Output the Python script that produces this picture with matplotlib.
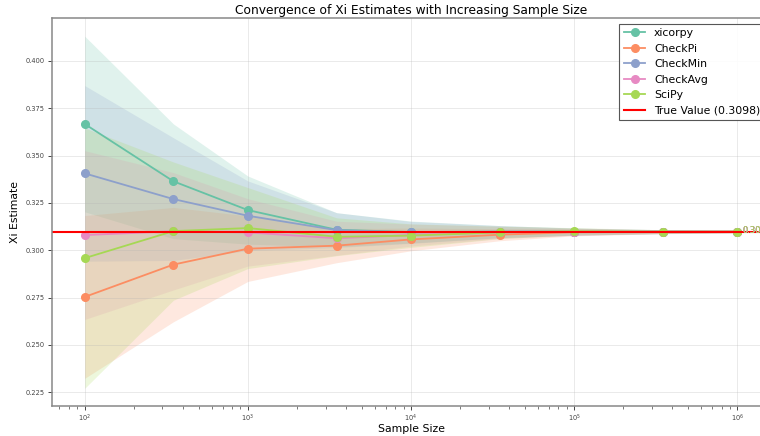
import numpy as np
import matplotlib
matplotlib.use("Agg")
import matplotlib.pyplot as plt

# Tamanhos de amostra
sample_sizes = [100, 350, 1000, 3500, 10000, 35000, 100000, 350000, 1000000]

true_value = 0.3098

# Medias das estimativas por metodo
xicorpy_mean = [0.3667, 0.3364, 0.3212, 0.3108, 0.3096, 0.3098, 0.3098, 0.3098, 0.3098]
checkpi_mean = [0.2753, 0.2924, 0.3008, 0.3024, 0.3057, 0.3082, 0.3095, 0.3097, 0.3098]
checkmin_mean = [0.3406, 0.3270, 0.3182, 0.3106, 0.3094, 0.3098, 0.3098, 0.3098, 0.3098]
checkavg_mean = [0.3080, 0.3100, 0.3094, 0.3063, 0.3080, 0.3094, 0.3098, 0.3098, 0.3098]
scipy_mean = [0.2958, 0.3101, 0.3117, 0.3071, 0.3077, 0.3094, 0.3100, 0.3098, 0.3098]

# Desvios padrao por metodo
xicorpy_std = [0.0464, 0.0303, 0.0180, 0.0090, 0.0058, 0.0032, 0.0019, 0.0010, 0.0006]
checkpi_std = [0.0430, 0.0302, 0.0173, 0.0090, 0.0060, 0.0032, 0.0019, 0.0010, 0.0006]
checkmin_std = [0.0464, 0.0324, 0.0184, 0.0092, 0.0058, 0.0032, 0.0019, 0.0010, 0.0006]
checkavg_std = [0.0446, 0.0310, 0.0178, 0.0090, 0.0058, 0.0032, 0.0019, 0.0010, 0.0006]
scipy_std = [0.0688, 0.0365, 0.0214, 0.0100, 0.0062, 0.0033, 0.0019, 0.0010, 0.0006]

methods = ["xicorpy", "CheckPi", "CheckMin", "CheckAvg", "SciPy"]
means = [xicorpy_mean, checkpi_mean, checkmin_mean, checkavg_mean, scipy_mean]
stds = [xicorpy_std, checkpi_std, checkmin_std, checkavg_std, scipy_std]
colors = ["#66c2a5", "#fc8d62", "#8da0cb", "#e78ac3", "#a6d854"]

fig = plt.figure(figsize=(7.6, 4.36), dpi=100)
ax = fig.add_axes([52 / 760, 30 / 436, 718 / 760, 387.5 / 436])

x = np.array(sample_sizes)
for nome, m, s, cor in zip(methods, means, stds, colors):
    m = np.array(m)
    s = np.array(s)
    ax.plot(x, m, marker="o", color=cor, label=nome, linewidth=1.3, markersize=5.5)
    ax.fill_between(x, m - s, m + s, color=cor, alpha=0.2, linewidth=0)
    ax.annotate(f"{m[-1]:.4f}", (x[-1], m[-1]), xytext=(4, 1), textcoords="offset points",
                color=cor, fontsize=6, va="center")

ax.axhline(true_value, color="red", linewidth=1.5, label=f"True Value ({true_value})")

ax.set_xscale("log")
ax.set_title("Convergence of Xi Estimates with Increasing Sample Size", fontsize=8.8, pad=3.5)
ax.set_xlabel("Sample Size", fontsize=7.8, labelpad=0)
ax.set_ylabel("Xi Estimate", fontsize=7.8, labelpad=4)
ax.tick_params(axis="both", which="major", labelsize=4.8, length=3, width=0.7,
               colors="#444444", pad=2.5)
ax.tick_params(axis="x", which="major", pad=1.5)
ax.tick_params(axis="both", which="minor", length=1.8, width=0.5, colors="#444444")
ax.grid(True, alpha=0.3, linewidth=0.6)

for sp in ax.spines.values():
    sp.set_color("#888888")
    sp.set_linewidth(1.1)

leg = ax.legend(loc="upper right", fontsize=7.8, framealpha=0.9, fancybox=False)
leg.get_frame().set_edgecolor("#444444")
leg.get_frame().set_linewidth(0.8)

fig.savefig("out.png", dpi=100)
